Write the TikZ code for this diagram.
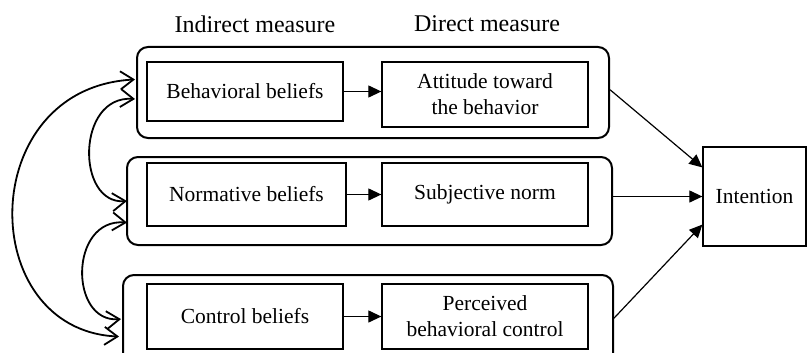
\documentclass[tikz,border=0pt]{standalone}
\usepackage{fontspec}
\setmainfont{Liberation Serif}
\usetikzlibrary{arrows.meta,calc}
\begin{document}
\begin{tikzpicture}[x=1pt,y=-1pt,
  txt/.style={font=\fontsize{21.5}{26}\selectfont, align=center},
  title/.style={font=\fontsize{24}{28}\selectfont},
  group/.style={draw, line width=2pt, rounded corners=11pt, inner sep=0pt},
  box/.style={draw, line width=1.3pt, inner sep=0pt, txt},
  solid arrow/.style={line width=1.2pt, -{Triangle[length=13pt,width=12pt]}},
  corr/.style={line width=1.8pt, {Straight Barb[length=13pt,width=18pt]}-{Straight Barb[length=13pt,width=18pt]}}]
\useasboundingbox (0,0) rectangle (808,353);
% group boxes
\node[group, minimum width=472pt, minimum height=91pt] (G1) at (373,92.5) {};
\node[group, minimum width=485pt, minimum height=88pt] (G2) at (369.5,201) {};
\node[group, minimum width=490pt, minimum height=90pt] (G3) at (368,320) {};
% titles
\node[title] (T1) at (255,24) {Indirect measure};
\node[title] (T2) at (487,24) {Direct measure};
% inner boxes
\node[box, minimum width=196pt, minimum height=59pt] (BB) at (245,91.5) {Behavioral beliefs};
\node[box, minimum width=199pt, minimum height=63pt] (NB) at (246.5,194.5) {Normative beliefs};
\node[box, minimum width=196pt, minimum height=65pt] (CB) at (245,316.5) {Control beliefs};
\node[box, minimum width=206pt, minimum height=65pt] (AT) at (485,94.5) {Attitude toward\\the behavior};
\node[box, minimum width=206pt, minimum height=63pt] (SN) at (485,194.5) {Subjective norm};
\node[box, minimum width=206pt, minimum height=65pt] (PC) at (485,316.5) {Perceived\\behavioral control};
\node[box, minimum width=103pt, minimum height=99pt] (IN) at (754.5,196.5) {Intention};
% inner arrows
\draw[solid arrow] (BB.east) -- (BB.east -| AT.west);
\draw[solid arrow] (NB.east) -- (NB.east -| SN.west);
\draw[solid arrow] (CB.east) -- (CB.east -| PC.west);
% arrows to intention
\draw[solid arrow] ($(G1.north east)!0.47!(G1.south east)$) -- ($(IN.north west)!0.21!(IN.south west)$);
\draw[solid arrow] (IN.west -| G2.east) -- (IN.west);
\draw[solid arrow] ($(G3.north east)!0.48!(G3.south east)$) -- ($(IN.north west)!0.78!(IN.south west)$);
% correlation curves
\coordinate (a1) at ($(G1.north west)!0.36!(G1.south west)+(-1,0)$);
\coordinate (a2) at ($(G1.north west)!0.57!(G1.south west)+(-1,0)$);
\coordinate (b1) at ($(G2.north west)!0.50!(G2.south west)+(1,0)$);
\coordinate (b2) at ($(G2.north west)!0.74!(G2.south west)+(1,0)$);
\coordinate (c1) at ($(G3.north west)!0.49!(G3.south west)+(-1,0)$);
\coordinate (c2) at ($(G3.north west)!0.68!(G3.south west)+(-3,0)$);
\draw[corr] (a1) .. controls (-25,88) and (-25,330) .. (c2);
\draw[corr] (a2) .. controls (76,95) and (76,205) .. (b1);
\draw[corr] (b2) .. controls (69,218) and (69,323) .. (c1);
\end{tikzpicture}
\end{document}
